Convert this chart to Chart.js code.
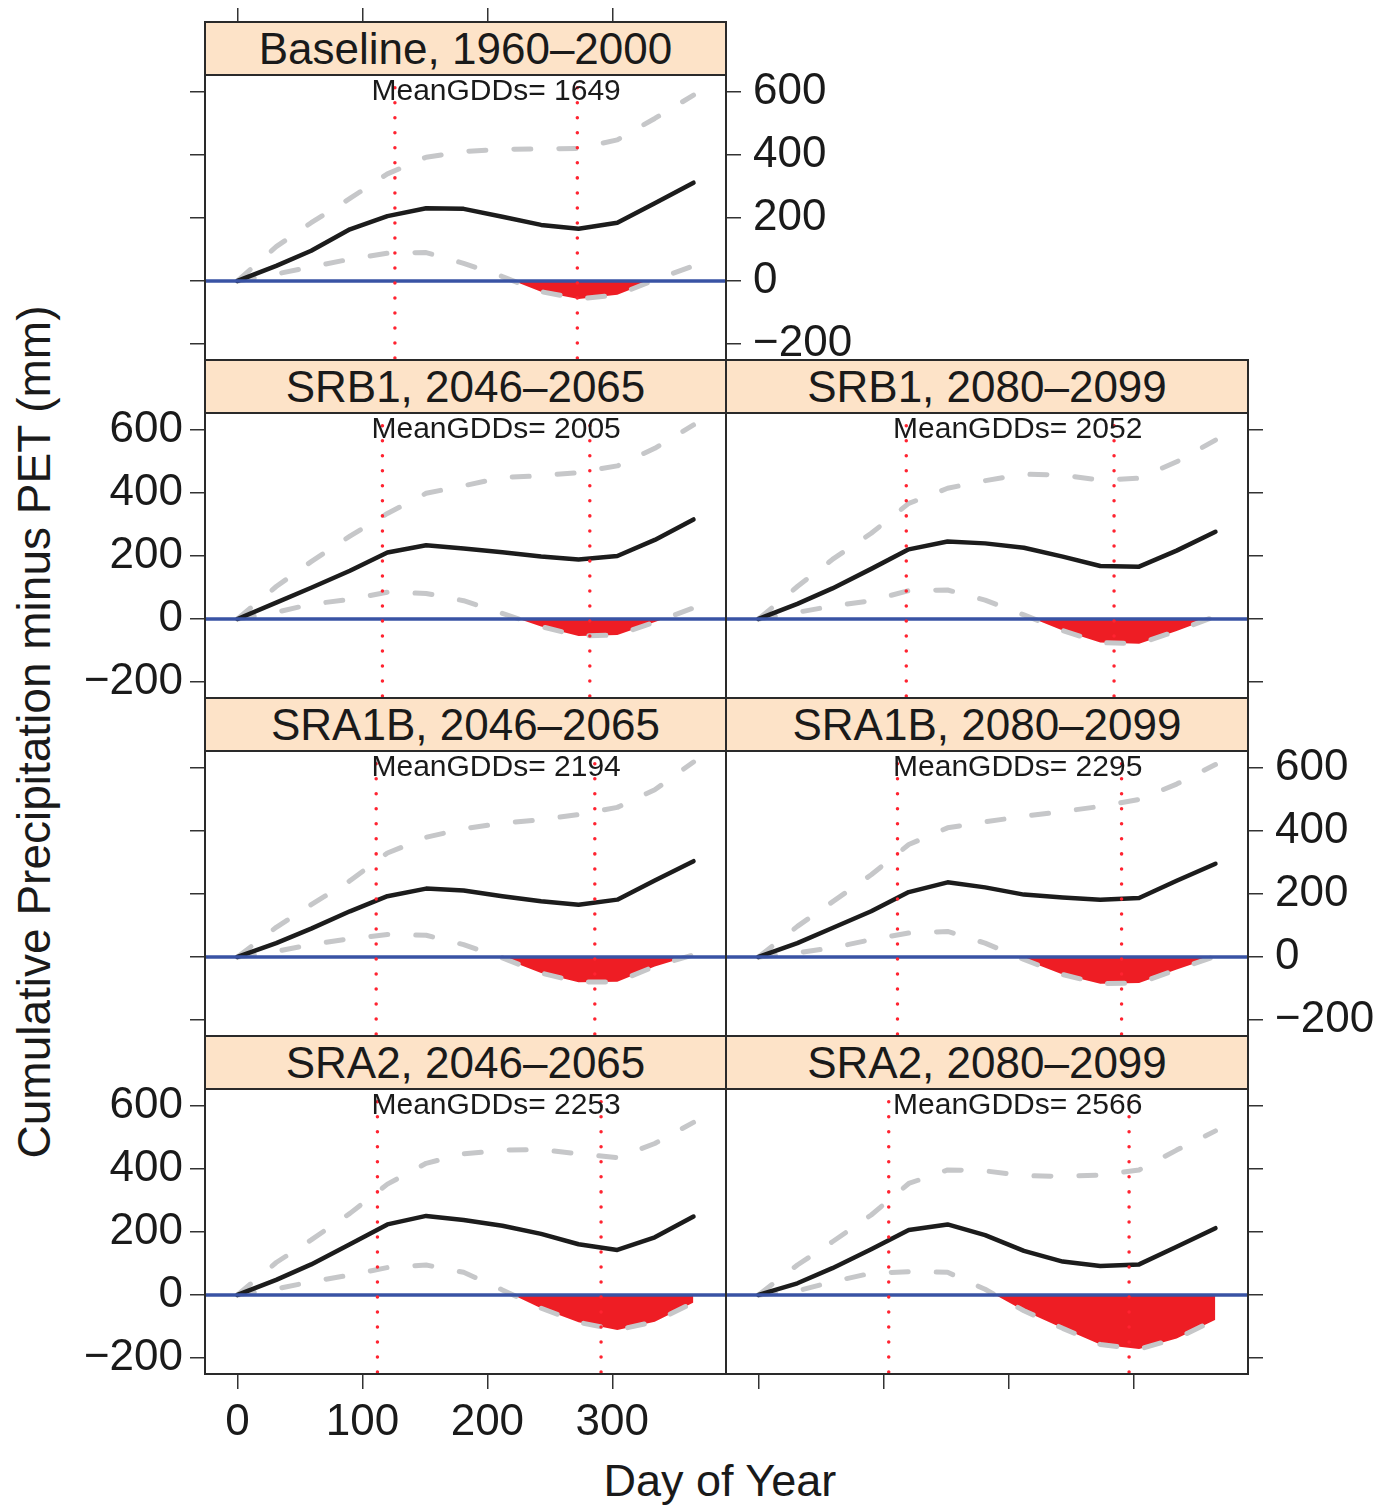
<!DOCTYPE html>
<html>
<head>
<meta charset="utf-8">
<script src="https://cdn.jsdelivr.net/npm/chart.js@4.4.1/dist/chart.umd.min.js"></script>
<style>
html, body { margin: 0; padding: 0; background: #fff; overflow: hidden; width: 1392px; height: 1506px; }
canvas { position: absolute; }
.strip { position: absolute; box-sizing: border-box; background: #fde3c8; border: 2px solid #2a2a2a;
  font-family: "Liberation Sans", Arial, sans-serif; font-size: 44px; color: #1a1a1a;
  text-align: center; white-space: nowrap; }
.axtitle { position: absolute; font-family: "Liberation Sans", Arial, sans-serif; color: #1a1a1a;
  white-space: nowrap; transform-origin: center center; }
</style>
</head>
<body>
<div id="wrap"></div>
<script>
// day of year for each cumulative point (month ends)
var days = [0, 31, 59, 90, 120, 151, 181, 212, 243, 273, 304, 334, 365];
var dayTicks = [0, 100, 200, 300];
var valueTicks = [-200, 0, 200, 400, 600];

var panelTitles = [
  'Baseline, 1960\u20132000',
  'SRB1, 2046\u20132065', 'SRB1, 2080\u20132099',
  'SRA1B, 2046\u20132065', 'SRA1B, 2080\u20132099',
  'SRA2, 2046\u20132065', 'SRA2, 2080\u20132099'
];
var meanGDDs = [1649, 2005, 2052, 2194, 2295, 2253, 2566];
var seasonStart = [126, 116, 118, 111, 111, 112, 104];
var seasonEnd = [272, 282, 284, 286, 290, 291, 296];

// mean cumulative P - PET (mm)
var meanCurve = [
  [0, 48, 96, 164, 206, 231, 229, 204, 178, 166, 185, 247, 312],
  [0, 52, 99, 153, 211, 234, 224, 212, 198, 189, 200, 251, 316],
  [0, 48, 97, 159, 221, 246, 240, 226, 198, 168, 166, 217, 277],
  [0, 44, 90, 145, 193, 217, 211, 193, 177, 166, 182, 243, 304],
  [0, 44, 92, 145, 206, 237, 221, 198, 189, 182, 187, 242, 296],
  [0, 48, 97, 161, 224, 251, 238, 220, 194, 161, 143, 183, 249],
  [0, 37, 85, 145, 206, 224, 190, 140, 106, 92, 97, 153, 212]
];
// upper bound (dashed)
var upperCurve = [
  [0, 109, 185, 262, 340, 393, 411, 418, 419, 421, 448, 516, 590],
  [0, 103, 182, 263, 335, 399, 423, 449, 455, 465, 486, 542, 616],
  [0, 103, 189, 272, 367, 415, 439, 460, 457, 441, 447, 499, 568],
  [0, 94, 166, 242, 330, 380, 407, 425, 436, 452, 475, 531, 619],
  [0, 97, 175, 261, 357, 410, 429, 447, 462, 478, 500, 549, 611],
  [0, 103, 175, 259, 352, 418, 448, 460, 462, 448, 436, 481, 548],
  [0, 95, 169, 254, 354, 397, 394, 379, 376, 381, 397, 460, 521]
];
// lower bound (dashed), deficit below zero shaded red
var lowerCurve = [
  [0, 22, 45, 69, 88, 90, 56, 14, -34, -57, -44, 3, 48],
  [0, 21, 47, 62, 85, 81, 58, 18, -24, -54, -51, -10, 35],
  [0, 21, 41, 58, 90, 92, 60, 13, -37, -75, -79, -38, 8],
  [0, 18, 39, 58, 71, 69, 39, -3, -51, -80, -79, -30, 7],
  [0, 13, 29, 55, 76, 81, 44, -8, -56, -85, -83, -40, 2],
  [0, 19, 42, 63, 87, 95, 72, 16, -42, -87, -111, -85, -24],
  [0, 13, 42, 69, 74, 72, 18, -50, -106, -157, -172, -138, -79]
];

var FONT = '"Liberation Sans", Arial, sans-serif';
var xMin = -26, xMax = 391, yMin = -251, yMax = 654;
var colLeft = [205, 726], colWidth = [521, 522];
var rowTop = [75, 413, 751, 1089], panelH = 285, stripH = 53;
var ML = 130, MR = 150, MT = 75, MB = 80;

// which sides carry ticks / labels, lattice style
var panels = [
  {row: 0, col: 0, lt: true, ll: false, rt: true, rl: true, tt: true, bt: false, bl: false},
  {row: 1, col: 0, lt: true, ll: true, rt: false, rl: false, tt: false, bt: false, bl: false},
  {row: 1, col: 1, lt: false, ll: false, rt: true, rl: false, tt: false, bt: false, bl: false},
  {row: 2, col: 0, lt: true, ll: false, rt: false, rl: false, tt: false, bt: false, bl: false},
  {row: 2, col: 1, lt: false, ll: false, rt: true, rl: true, tt: false, bt: false, bl: false},
  {row: 3, col: 0, lt: true, ll: true, rt: false, rl: false, tt: false, bt: true, bl: true},
  {row: 3, col: 1, lt: false, ll: false, rt: true, rl: false, tt: false, bt: true, bl: false}
];

var panelDecor = {
  id: 'panelDecor',
  afterDatasetsDraw: function (chart, args, opts) {
    var ctx = chart.ctx, a = chart.chartArea, x = chart.scales.x, y = chart.scales.y;
    ctx.save();
    ctx.beginPath();
    ctx.rect(a.left, a.top, a.right - a.left, a.bottom - a.top);
    ctx.clip();
    var y0 = y.getPixelForValue(0);
    ctx.strokeStyle = '#3953a4';
    ctx.lineWidth = 3.5;
    ctx.beginPath();
    ctx.moveTo(a.left, y0);
    ctx.lineTo(a.right, y0);
    ctx.stroke();
    ctx.strokeStyle = '#ff2330';
    ctx.lineWidth = 3.5;
    ctx.lineCap = 'round';
    ctx.setLineDash([0.01, 15]);
    opts.season.forEach(function (d) {
      var px = x.getPixelForValue(d);
      ctx.beginPath();
      ctx.moveTo(px, a.bottom - 2);
      ctx.lineTo(px, a.top);
      ctx.stroke();
    });
    ctx.setLineDash([]);
    ctx.fillStyle = '#1a1a1a';
    ctx.font = '30px ' + FONT;
    ctx.textAlign = 'center';
    ctx.textBaseline = 'alphabetic';
    ctx.fillText('MeanGDDs= ' + opts.gdd, x.getPixelForValue(207), a.top + 25);
    ctx.restore();
    ctx.save();
    ctx.strokeStyle = '#2a2a2a';
    ctx.lineWidth = 2;
    ctx.strokeRect(a.left, a.top, a.right - a.left, a.bottom - a.top);
    ctx.restore();
  }
};

function fmt(v) {
  return v < 0 ? '\u2212' + Math.abs(v) : String(v);
}

function xAxis(pos, showTicks, showLabels, tickLen, size) {
  return {
    type: 'linear', position: pos, min: xMin, max: xMax,
    afterBuildTicks: function (s) { s.ticks = dayTicks.map(function (v) { return {value: v}; }); },
    afterFit: function (s) { s.height = size; },
    border: {display: false},
    grid: {display: showTicks, drawOnChartArea: false, tickLength: tickLen, color: '#333', lineWidth: 1.5},
    ticks: {display: showLabels, color: '#1a1a1a', font: {family: FONT, size: 44}, padding: 7,
      maxRotation: 0, autoSkip: false, callback: fmt}
  };
}

function yAxis(pos, showTicks, showLabels, size, pad) {
  return {
    type: 'linear', position: pos, min: yMin, max: yMax,
    afterBuildTicks: function (s) { s.ticks = valueTicks.map(function (v) { return {value: v}; }); },
    afterFit: function (s) { s.width = size; },
    border: {display: false},
    grid: {display: showTicks, drawOnChartArea: false, tickLength: 15, color: '#333', lineWidth: 1.5},
    ticks: {display: showLabels, color: '#1a1a1a', font: {family: FONT, size: 44}, padding: pad,
      autoSkip: false, callback: fmt}
  };
}

var wrap = document.getElementById('wrap');

panels.forEach(function (p, i) {
  var L = colLeft[p.col], W = colWidth[p.col], T = rowTop[p.row];
  var cv = document.createElement('canvas');
  cv.width = W + ML + MR;
  cv.height = panelH + MT + MB;
  cv.style.left = (L - ML) + 'px';
  cv.style.top = (T - MT) + 'px';
  cv.style.width = cv.width + 'px';
  cv.style.height = cv.height + 'px';
  wrap.appendChild(cv);

  var pts = function (arr) { return days.map(function (d, k) { return {x: d, y: arr[k]}; }); };
  var common = {pointRadius: 0, tension: 0, borderJoinStyle: 'round', borderCapStyle: 'round'};

  new Chart(cv, {
    type: 'line',
    data: {
      datasets: [
        Object.assign({label: 'mean', data: pts(meanCurve[i]), borderColor: '#1c1c1c', borderWidth: 4.5, fill: false}, common),
        Object.assign({label: 'upper', data: pts(upperCurve[i]), borderColor: '#c6c7c9', borderWidth: 5,
          borderDash: [17, 28], fill: false}, common),
        Object.assign({label: 'lower', data: pts(lowerCurve[i]), borderColor: '#c6c7c9', borderWidth: 5,
          borderDash: [17, 28], fill: {target: {value: 0}, above: 'rgba(0,0,0,0)', below: '#ee1d24'}}, common)
      ]
    },
    options: {
      responsive: false,
      animation: false,
      devicePixelRatio: 1,
      layout: {padding: 0},
      scales: {
        x: xAxis('bottom', p.bt, p.bl, 15, MB),
        xt: xAxis('top', p.tt, false, stripH + 14, MT),
        y: yAxis('left', p.lt, p.ll, ML, 7),
        y2: yAxis('right', p.rt, p.rl, MR, 12)
      },
      plugins: {
        legend: {display: false},
        tooltip: {enabled: false},
        panelDecor: {season: [seasonStart[i], seasonEnd[i]], gdd: meanGDDs[i]}
      }
    },
    plugins: [panelDecor]
  });

  var st = document.createElement('div');
  st.className = 'strip';
  st.style.left = (L - 1) + 'px';
  st.style.top = (T - stripH - 1) + 'px';
  st.style.width = (W + 2) + 'px';
  st.style.height = (stripH + 2) + 'px';
  st.style.lineHeight = (stripH - 2) + 'px';
  st.textContent = panelTitles[i];
  wrap.appendChild(st);
});

var yt = document.createElement('div');
yt.className = 'axtitle';
yt.style.fontSize = '46px';
yt.style.lineHeight = '46px';
yt.textContent = 'Cumulative Precipitation minus PET (mm)';
wrap.appendChild(yt);
yt.style.left = (34 - yt.offsetWidth / 2) + 'px';
yt.style.top = (732 - 23) + 'px';
yt.style.transform = 'rotate(-90deg)';

var xt = document.createElement('div');
xt.className = 'axtitle';
xt.style.fontSize = '45px';
xt.style.lineHeight = '45px';
xt.textContent = 'Day of Year';
wrap.appendChild(xt);
xt.style.left = (720 - xt.offsetWidth / 2) + 'px';
xt.style.top = (1480 - 22) + 'px';
</script>
</body>
</html>
